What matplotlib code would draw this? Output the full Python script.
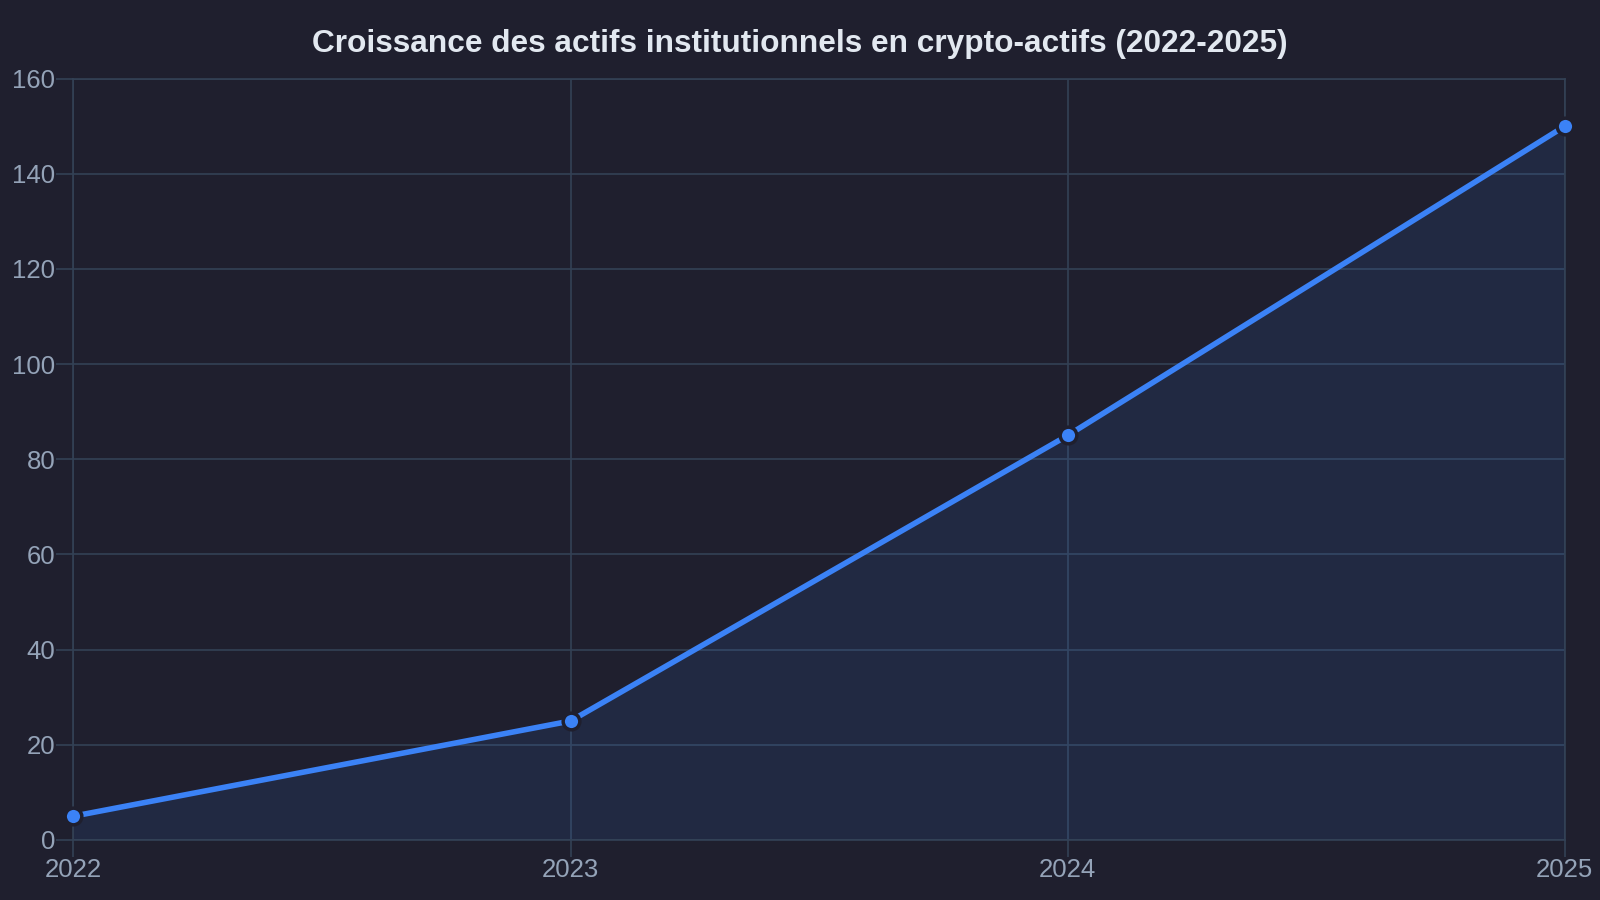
import numpy as np
import matplotlib
matplotlib.use("Agg")
import matplotlib.pyplot as plt

# data
years = ["2022", "2023", "2024", "2025"]
actifs = [5, 25, 85, 150]

bg = "#1f1f2e"
grid_col = "#334155"
line_col = "#3b82f6"
tick_col = "#94a3b8"
title_col = "#e2e8f0"

plt.rcParams['font.family'] = ['Liberation Sans', 'DejaVu Sans']

fig = plt.figure(figsize=(16, 9), dpi=100, facecolor=bg)
ax = fig.add_axes([0.0459, 0.0667, 0.978 - 0.0459, 0.9127 - 0.0667])
ax.set_facecolor(bg)

x = np.arange(len(years))
ax.fill_between(x, actifs, 0, color=line_col, alpha=0.1, linewidth=0, zorder=1)
ax.plot(x, actifs, color=line_col, linewidth=4, solid_capstyle='round', zorder=3)
ax.plot(x, actifs, linestyle='none', marker='o', markersize=12,
        markerfacecolor=line_col, markeredgecolor=bg, markeredgewidth=2.5,
        zorder=4, clip_on=False)

ax.set_xlim(0, len(years) - 1)
ax.set_ylim(0, 160)
ax.set_xticks(x)
ax.set_xticklabels(years)
ax.set_yticks(np.arange(0, 161, 20))

ax.grid(True, color=grid_col, linewidth=1.2, zorder=0)
ax.set_axisbelow(True)
for s in ax.spines.values():
    s.set_color(grid_col)
    s.set_linewidth(1.2)

ax.tick_params(axis='both', colors=grid_col, labelcolor=tick_col, labelsize=18.5,
               length=12, width=1.2, pad=1)

fig.suptitle("Croissance des actifs institutionnels en crypto-actifs (2022-2025)",
             color=title_col, fontsize=22.8, fontweight='bold', y=0.968)

fig.savefig("out.png", dpi=100, facecolor=bg)
